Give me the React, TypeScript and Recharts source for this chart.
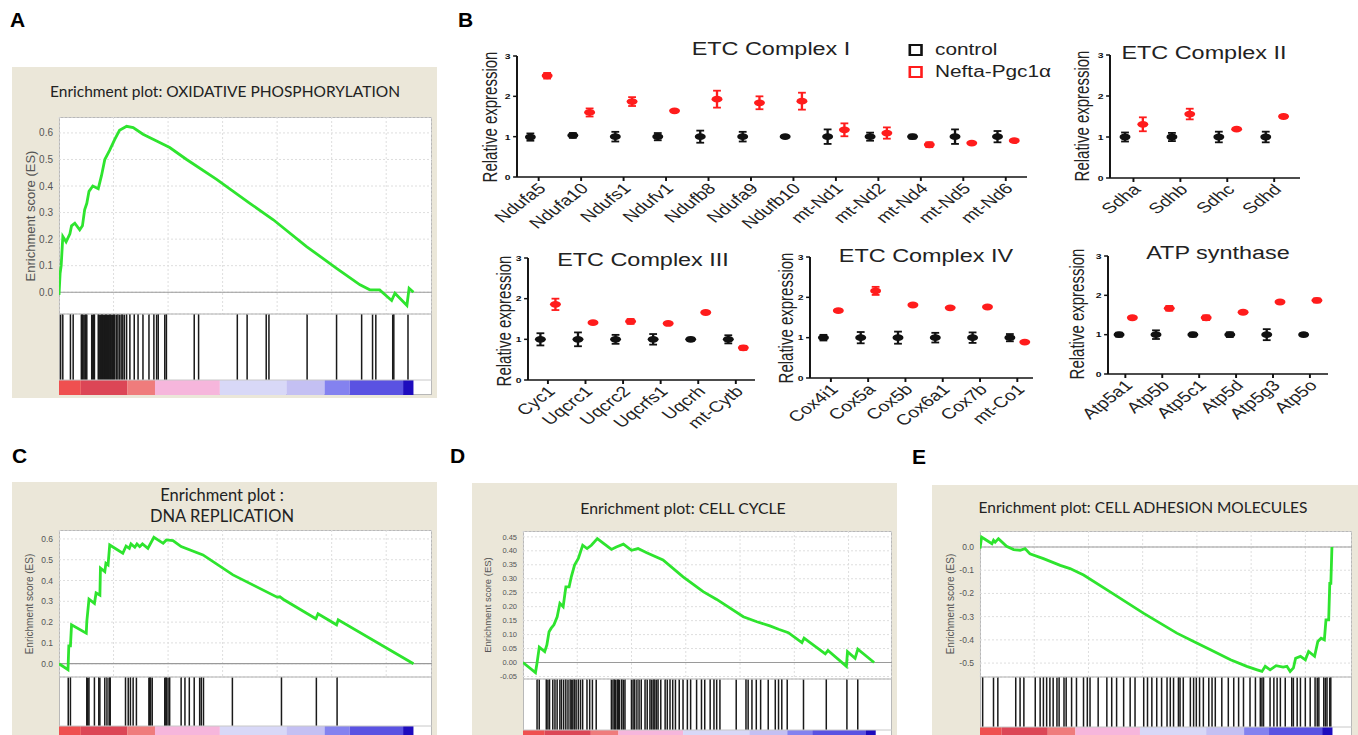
import React from 'react'
import {
  LineChart, Line, ComposedChart, Bar, ScatterChart, Scatter, ErrorBar,
  XAxis, YAxis, CartesianGrid, ReferenceLine, ReferenceArea,
} from 'recharts'

// ---------- panel B : qPCR data (mean ± sem, relative expression) ----------
const C1_GENES = ['Ndufa5', 'Ndufa10', 'Ndufs1', 'Ndufv1', 'Ndufb8', 'Ndufa9', 'Ndufb10', 'mt-Nd1', 'mt-Nd2', 'mt-Nd4', 'mt-Nd5', 'mt-Nd6']
const C1_CTRL = [0.99, 1.03, 1.0, 1.0, 1.0, 1.0, 1.0, 1.0, 1.0, 1.0, 1.0, 1.0]
const C1_CTRL_ERR = [0.09, 0.06, 0.12, 0.09, 0.15, 0.12, 0.03, 0.18, 0.1, 0.05, 0.18, 0.14]
const C1_NEFTA = [2.51, 1.6, 1.87, 1.64, 1.93, 1.84, 1.88, 1.17, 1.09, 0.8, 0.84, 0.9]
const C1_NEFTA_ERR = [0.07, 0.1, 0.11, 0.02, 0.21, 0.16, 0.21, 0.16, 0.14, 0.06, 0.01, 0.02]

const C2_GENES = ['Sdha', 'Sdhb', 'Sdhc', 'Sdhd']
const C2_CTRL = [1.0, 1.0, 1.0, 1.0]
const C2_CTRL_ERR = [0.11, 0.1, 0.13, 0.13]
const C2_NEFTA = [1.31, 1.56, 1.19, 1.5]
const C2_NEFTA_ERR = [0.17, 0.13, 0.02, 0.04]

const C3_GENES = ['Cyc1', 'Uqcrc1', 'Uqcrc2', 'Uqcrfs1', 'Uqcrh', 'mt-Cytb']
const C3_CTRL = [1.0, 1.0, 1.0, 1.0, 1.0, 1.0]
const C3_CTRL_ERR = [0.15, 0.17, 0.11, 0.13, 0.04, 0.1]
const C3_NEFTA = [1.86, 1.41, 1.44, 1.39, 1.66, 0.79]
const C3_NEFTA_ERR = [0.14, 0.02, 0.06, 0.01, 0.01, 0.05]

const C4_GENES = ['Cox4i1', 'Cox5a', 'Cox5b', 'Cox6a1', 'Cox7b', 'mt-Co1']
const C4_CTRL = [1.0, 1.0, 1.0, 1.0, 1.0, 1.0]
const C4_CTRL_ERR = [0.07, 0.14, 0.15, 0.12, 0.13, 0.09]
const C4_NEFTA = [1.67, 2.16, 1.81, 1.74, 1.76, 0.89]
const C4_NEFTA_ERR = [0.03, 0.1, 0.01, 0.01, 0.02, 0.02]

const ATP_GENES = ['Atp5a1', 'Atp5b', 'Atp5c1', 'Atp5d', 'Atp5g3', 'Atp5o']
const ATP_CTRL = [1.0, 1.0, 1.0, 1.0, 1.0, 1.0]
const ATP_CTRL_ERR = [0.05, 0.11, 0.05, 0.06, 0.14, 0.04]
const ATP_NEFTA = [1.43, 1.67, 1.43, 1.57, 1.83, 1.87]
const ATP_NEFTA_ERR = [0.03, 0.06, 0.06, 0.03, 0.03, 0.05]

const EXPR_TICKS = [0, 1, 2, 3]

// ---------- GSEA running enrichment scores: [rank (x1000 genes), ES] ----------
const OXPHOS_ES: [number, number][] = [
  [0, -0.01], [0.02, 0.07], [0.04, 0.1], [0.07, 0.21], [0.13, 0.19], [0.2, 0.22], [0.23, 0.25],
  [0.29, 0.26], [0.38, 0.235], [0.43, 0.25], [0.47, 0.31], [0.51, 0.335], [0.55, 0.38], [0.62, 0.4],
  [0.72, 0.39], [0.78, 0.44], [0.84, 0.5], [0.93, 0.535], [1.02, 0.575], [1.11, 0.61], [1.24, 0.625],
  [1.36, 0.62], [1.54, 0.595], [1.79, 0.57], [2.03, 0.545], [2.34, 0.5], [2.89, 0.425], [3.5, 0.335],
  [3.93, 0.273], [4.54, 0.172], [5.09, 0.09], [5.52, 0.028], [5.7, 0.009], [5.88, 0.009], [6.1, -0.031],
  [6.16, -0.004], [6.38, -0.05], [6.42, 0.015], [6.5, 0.0],
]
const OXPHOS_HITS = [
  0.03, 0.07, 0.21, 0.26, 0.41, 0.43, 0.44, 0.46, 0.48, 0.49, 0.51, 0.6, 0.62, 0.63, 0.65, 0.72, 0.735,
  0.75, 0.765, 0.77, 0.785, 0.8, 0.815, 0.82, 0.835, 0.84, 0.855, 0.87, 0.885, 0.89, 0.905, 0.92, 0.935,
  0.94, 0.955, 0.97, 0.985, 0.99, 1.005, 1.02, 1.05, 1.08, 1.11, 1.14, 1.17, 1.2, 1.24, 1.3, 1.38,
  1.45, 1.54, 1.65, 1.74, 1.79, 1.82, 1.94, 1.97, 2.48, 2.56, 3.27, 3.45, 3.8, 3.85, 4.55, 5.09, 5.55,
  5.75, 5.81, 6.12, 6.14, 6.4,
]

const DNAREP_ES: [number, number][] = [
  [0, 0], [0.165, -0.029], [0.18, 0.086], [0.21, 0.086], [0.23, 0.187], [0.5, 0.147], [0.51, 0.203],
  [0.55, 0.31], [0.65, 0.29], [0.68, 0.34], [0.75, 0.33], [0.76, 0.46], [0.84, 0.443], [0.86, 0.483],
  [0.9, 0.475], [0.93, 0.571], [1.17, 0.531], [1.23, 0.566], [1.29, 0.555], [1.32, 0.576], [1.39, 0.56],
  [1.43, 0.576], [1.48, 0.563], [1.53, 0.576], [1.63, 0.555], [1.74, 0.608], [1.91, 0.579], [1.97, 0.595],
  [2.09, 0.592], [2.24, 0.563], [2.64, 0.523], [3.19, 0.427], [4.0, 0.32], [4.05, 0.322], [4.11, 0.31],
  [4.71, 0.216], [4.75, 0.24], [5.09, 0.187], [5.12, 0.211], [6.5, 0.0],
]
const DNAREP_HITS = [
  0.17, 0.21, 0.51, 0.52, 0.53, 0.55, 0.65, 0.73, 0.75, 0.84, 0.88, 0.92, 0.93, 0.94, 1.22, 1.27, 1.31,
  1.36, 1.42, 1.65, 1.66, 1.67, 1.68, 1.71, 1.94, 1.96, 1.97, 2.0, 2.03, 2.24, 2.31, 2.39, 2.48, 2.58,
  2.61, 2.65, 3.18, 4.08, 4.72, 5.1,
]

const CYCLE_ES: [number, number][] = [
  [0, 0], [0.23, -0.036], [0.26, 0], [0.3, 0.055], [0.4, 0.039], [0.44, 0.063], [0.48, 0.11],
  [0.52, 0.123], [0.57, 0.135], [0.63, 0.164], [0.68, 0.212], [0.74, 0.2], [0.79, 0.271], [0.85, 0.271],
  [0.89, 0.307], [0.95, 0.349], [1.02, 0.373], [1.1, 0.42], [1.18, 0.408], [1.26, 0.42], [1.37, 0.444],
  [1.49, 0.426], [1.63, 0.405], [1.72, 0.414], [1.85, 0.424], [2.0, 0.402], [2.12, 0.408], [2.28, 0.393],
  [2.58, 0.367], [2.95, 0.307], [3.32, 0.254], [3.57, 0.226], [4.06, 0.164], [4.31, 0.146], [4.55, 0.131],
  [4.71, 0.119], [4.89, 0.107], [5.14, 0.071], [5.18, 0.087], [5.57, 0.031], [5.62, 0.043], [5.96, -0.014],
  [5.98, 0.039], [6.12, 0.015], [6.17, 0.048], [6.47, 0],
]
const CYCLE_HITS = [
  0.26, 0.3, 0.43, 0.46, 0.49, 0.55, 0.59, 0.63, 0.68, 0.71, 0.75, 0.79, 0.83, 0.87, 0.9, 0.92, 0.95,
  0.98, 1.02, 1.06, 1.1, 1.18, 1.23, 1.28, 1.35, 1.63, 1.66, 1.69, 1.71, 1.74, 1.76, 1.78, 1.82, 1.85,
  1.88, 2.0, 2.03, 2.06, 2.1, 2.14, 2.18, 2.25, 2.29, 2.34, 2.37, 2.4, 2.43, 2.46, 2.49, 2.54, 2.62,
  2.66, 2.71, 2.76, 2.81, 2.88, 2.95, 3.03, 3.09, 3.2, 3.29, 3.35, 3.45, 3.52, 3.57, 3.63, 3.93, 4.11,
  4.15, 4.22, 4.3, 4.38, 4.52, 4.65, 4.71, 4.77, 4.87, 5.17, 5.59, 5.97, 6.17,
]

const ADHESION_ES: [number, number][] = [
  [0, -0.007], [0.03, 0.043], [0.12, 0.029], [0.22, 0.014], [0.25, 0.029], [0.28, 0.021], [0.34, 0.036],
  [0.49, 0.003], [0.62, -0.011], [0.74, -0.014], [0.83, -0.007], [0.92, -0.029], [1.17, -0.05],
  [1.48, -0.079], [1.66, -0.093], [1.91, -0.121], [2.4, -0.193], [3.02, -0.286], [3.63, -0.371],
  [3.94, -0.407], [4.25, -0.443], [4.62, -0.486], [4.92, -0.514], [5.11, -0.529], [5.2, -0.536],
  [5.26, -0.514], [5.35, -0.529], [5.46, -0.511], [5.59, -0.517], [5.66, -0.514], [5.72, -0.536],
  [5.78, -0.521], [5.82, -0.479], [5.91, -0.471], [6.0, -0.486], [6.06, -0.45], [6.17, -0.471],
  [6.23, -0.407], [6.29, -0.393], [6.35, -0.4], [6.38, -0.314], [6.43, -0.314], [6.45, -0.157],
  [6.47, -0.157], [6.49, 0],
]
const ADHESION_HITS = [
  0.05, 0.25, 0.33, 0.66, 0.74, 0.81, 1.02, 1.11, 1.17, 1.23, 1.29, 1.35, 1.42, 1.46, 1.55, 1.59, 1.69,
  1.78, 1.91, 1.98, 2.03, 2.18, 2.34, 2.43, 2.52, 2.65, 2.77, 2.86, 3.02, 3.09, 3.17, 3.26, 3.35, 3.45,
  3.51, 3.57, 3.66, 3.69, 3.75, 3.88, 3.94, 3.99, 4.05, 4.12, 4.22, 4.28, 4.34, 4.46, 4.58, 4.68, 4.77,
  4.86, 4.98, 5.08, 5.17, 5.2, 5.23, 5.35, 5.42, 5.48, 5.54, 5.63, 5.75, 5.78, 5.85, 5.91, 6.0, 6.09,
  6.18, 6.22, 6.25, 6.34, 6.37, 6.4, 6.45, 6.47,
]

// ranked-list colour bar (shared by all GSEA plots)
const RANK_STOPS = [0, 0.4, 1.25, 1.76, 2.95, 4.17, 4.87, 5.33, 6.31, 6.5]
const RANK_FILLS = ['#ef5050', '#dc4656', '#ef7c7c', '#f6b6dc', '#d8d8f7', '#c4c0f3', '#8482ef', '#5a52e2', '#1e0cbe']

const ES_TICKS_POS = [0, 0.1, 0.2, 0.3, 0.4, 0.5, 0.6]
const ES_TICKS_CYCLE = [-0.05, 0, 0.05, 0.1, 0.15, 0.2, 0.25, 0.3, 0.35, 0.4, 0.45]
const ES_TICKS_NEG = [-0.5, -0.4, -0.3, -0.2, -0.1, 0]
const RANK_GRID = [1, 2, 3, 4, 5, 6]

const BEIGE = '#ebe7d9'
const GREEN = '#2ee42e'
const RED = '#ff1c1c'
const BLACK = '#111'
const K = 1.3 // panel B is stretched horizontally

type Gsea = {
  box: [number, number, number, number]
  title: string[]; titleX: number; titleY: number[]; titleSize: number
  plotLeft: number; plotRight: number; plotTop: number; esBottom: number; hitsBottom: number; barBottom: number
  yDomain: [number, number]; yTicks: number[]; digits: number; xMax: number
  es: [number, number][]; hits: number[]
  tickSize: number; labelSize: number; labelX: number
}

const PANEL_A: Gsea = {
  box: [12, 67, 437, 398], title: ['Enrichment plot: OXIDATIVE PHOSPHORYLATION'], titleX: 225, titleY: [91], titleSize: 15.5,
  plotLeft: 59, plotRight: 432, plotTop: 117, esBottom: 314, hitsBottom: 380, barBottom: 395,
  yDomain: [-0.082, 0.66], yTicks: ES_TICKS_POS, digits: 1, xMax: 6.84,
  es: OXPHOS_ES, hits: OXPHOS_HITS, tickSize: 10, labelSize: 13, labelX: 30,
}
const PANEL_C: Gsea = {
  box: [12, 482, 437, 760], title: ['Enrichment plot :', 'DNA REPLICATION'], titleX: 222, titleY: [495, 516], titleSize: 16.5,
  plotLeft: 59, plotRight: 432, plotTop: 530, esBottom: 677, hitsBottom: 726, barBottom: 745,
  yDomain: [-0.064, 0.643], yTicks: ES_TICKS_POS, digits: 1, xMax: 6.84,
  es: DNAREP_ES, hits: DNAREP_HITS, tickSize: 8.5, labelSize: 10, labelX: 29,
}
const PANEL_D: Gsea = {
  box: [472, 483, 897, 760], title: ['Enrichment plot: CELL CYCLE'], titleX: 683, titleY: [507], titleSize: 15.8,
  plotLeft: 523, plotRight: 892, plotTop: 531, esBottom: 679, hitsBottom: 730, barBottom: 745,
  yDomain: [-0.059, 0.471], yTicks: ES_TICKS_CYCLE, digits: 2, xMax: 6.8,
  es: CYCLE_ES, hits: CYCLE_HITS, tickSize: 7.5, labelSize: 9.5, labelX: 487,
}
const PANEL_E: Gsea = {
  box: [932, 485, 1360, 760], title: ['Enrichment plot: CELL ADHESION MOLECULES'], titleX: 1143, titleY: [507], titleSize: 15.5,
  plotLeft: 980, plotRight: 1352, plotTop: 531, esBottom: 677, hitsBottom: 727, barBottom: 745,
  yDomain: [-0.56, 0.069], yTicks: ES_TICKS_NEG, digits: 1, xMax: 6.86,
  es: ADHESION_ES, hits: ADHESION_HITS, tickSize: 8.5, labelSize: 10, labelX: 950,
}

// a hit is drawn as a thin fixed-width stick centred on the bar the library positions
const HitStick = (b: any) => (
  <rect x={b.x + b.width / 2 - 0.75} y={b.y} width={1.5} height={b.height} fill="#1a1a1a" />
)

function GseaPanel({ g }: { g: Gsea }) {
  const esData = g.es.map(([rank, es]) => ({ rank, es }))
  const barFrac = (g.barBottom - g.hitsBottom) / (g.barBottom - g.esBottom)
  const hitData = g.hits.map(rank => ({ rank, span: [barFrac, 1] }))
  const w = g.plotRight - g.plotLeft
  const AX = 60
  const PB = 12
  return (
    <>
      <div style={{ position: 'absolute', left: g.box[0], top: g.box[1], width: g.box[2] - g.box[0], height: g.box[3] - g.box[1], background: BEIGE }} />
      {g.title.map((t, i) => (
        <div key={i} style={{ position: 'absolute', left: g.titleX, top: g.titleY[i], transform: 'translate(-50%,-50%)', whiteSpace: 'nowrap', fontFamily: 'Lato, "Open Sans", sans-serif', fontSize: g.titleSize, color: '#222' }}>{t}</div>
      ))}
      <div style={{ position: 'absolute', left: g.plotLeft, top: g.plotTop, width: w, height: g.barBottom - g.plotTop, background: '#fff', boxSizing: 'border-box', border: '1px solid #b8b8b8' }} />
      <div style={{ position: 'absolute', left: g.labelX, top: (g.plotTop + g.esBottom) / 2, transform: 'translate(-50%,-50%) rotate(-90deg)', whiteSpace: 'nowrap', fontSize: g.labelSize, color: '#555' }}>
        Enrichment score (ES)
      </div>
      <div style={{ position: 'absolute', left: g.plotLeft, top: g.esBottom }}>
        <ComposedChart width={w} height={g.barBottom - g.esBottom} data={hitData} margin={{ top: 0, right: 0, bottom: 0, left: 0 }}>
          <XAxis type="number" dataKey="rank" domain={[0, g.xMax]} hide allowDataOverflow />
          <YAxis type="number" domain={[0, 1]} hide allowDataOverflow />
          {RANK_FILLS.map((c, i) => (
            <ReferenceArea key={'c' + i} x1={RANK_STOPS[i]} x2={RANK_STOPS[i + 1]} y1={0} y2={barFrac} fill={c} fillOpacity={1} stroke="none" ifOverflow="visible" />
          ))}
          <ReferenceLine y={barFrac} stroke="#c8c8c8" />
          <Bar dataKey="span" barSize={1.5} shape={HitStick} isAnimationActive={false} />
        </ComposedChart>
      </div>
      <div style={{ position: 'absolute', left: g.plotLeft - AX, top: g.plotTop }}>
        <LineChart width={w + AX} height={g.esBottom - g.plotTop + PB} data={esData} margin={{ top: 0, right: 0, bottom: PB, left: 0 }}>
          <CartesianGrid stroke="#dedede" strokeDasharray="2 2" />
          <XAxis type="number" dataKey="rank" domain={[0, g.xMax]} ticks={RANK_GRID} hide allowDataOverflow />
          <YAxis type="number" domain={g.yDomain} ticks={g.yTicks} width={AX} interval={0} axisLine={false} tickLine={false}
            tickSize={0} tickMargin={6} allowDataOverflow tick={{ fontSize: g.tickSize, fill: '#555' }}
            tickFormatter={(v: number) => v.toFixed(g.digits)} />
          <ReferenceLine y={0} stroke="#9a9a9a" strokeWidth={1.2} />
          <ReferenceLine y={g.yDomain[0]} stroke="#b0b0b0" />
          <Line dataKey="es" type="linear" stroke={GREEN} strokeWidth={2.8} dot={false} isAnimationActive={false} />
        </LineChart>
      </div>
    </>
  )
}

type Expr = {
  title: string; titleX: number; titleY: number
  genes: string[]; ctrl: number[]; ctrlErr: number[]; nefta: number[]; neftaErr: number[]
  plotLeft: number; plotRight: number; plotTop: number; plotBottom: number
  xDomain: [number, number]; ctrlOff: number; neftaOff: number
  labelX: number; labelY: number; legend?: boolean
}

const PANELS_B: Expr[] = [
  { title: 'ETC Complex I', titleX: 771, titleY: 49, genes: C1_GENES, ctrl: C1_CTRL, ctrlErr: C1_CTRL_ERR, nefta: C1_NEFTA, neftaErr: C1_NEFTA_ERR,
    plotLeft: 517, plotRight: 1027, plotTop: 56, plotBottom: 177, xDomain: [-0.51, 11.5], ctrlOff: -0.195, neftaOff: 0.2, labelX: 490, labelY: 117, legend: true },
  { title: 'ETC Complex II', titleX: 1204, titleY: 53, genes: C2_GENES, ctrl: C2_CTRL, ctrlErr: C2_CTRL_ERR, nefta: C2_NEFTA, neftaErr: C2_NEFTA_ERR,
    plotLeft: 1110, plotRight: 1300, plotTop: 55, plotBottom: 178, xDomain: [-0.5, 3.55], ctrlOff: -0.18, neftaOff: 0.2, labelX: 1081, labelY: 116 },
  { title: 'ETC Complex III', titleX: 643, titleY: 260, genes: C3_GENES, ctrl: C3_CTRL, ctrlErr: C3_CTRL_ERR, nefta: C3_NEFTA, neftaErr: C3_NEFTA_ERR,
    plotLeft: 528, plotRight: 755, plotTop: 258, plotBottom: 380, xDomain: [-0.53, 5.51], ctrlOff: -0.2, neftaOff: 0.2, labelX: 503, labelY: 321 },
  { title: 'ETC Complex IV', titleX: 926, titleY: 256, genes: C4_GENES, ctrl: C4_CTRL, ctrlErr: C4_CTRL_ERR, nefta: C4_NEFTA, neftaErr: C4_NEFTA_ERR,
    plotLeft: 810, plotRight: 1033, plotTop: 257, plotBottom: 378, xDomain: [-0.56, 5.42], ctrlOff: -0.2, neftaOff: 0.2, labelX: 785, labelY: 318 },
  { title: 'ATP synthase', titleX: 1218, titleY: 253, genes: ATP_GENES, ctrl: ATP_CTRL, ctrlErr: ATP_CTRL_ERR, nefta: ATP_NEFTA, neftaErr: ATP_NEFTA_ERR,
    plotLeft: 1108, plotRight: 1328, plotTop: 256, plotBottom: 374, xDomain: [-0.47, 5.49], ctrlOff: -0.17, neftaOff: 0.19, labelX: 1077, labelY: 314 },
]

const Marker = (props: any) => <ellipse cx={props.cx} cy={props.cy} rx={4.2} ry={3.4} fill={props.fill} />

function ExprPanel({ p }: { p: Expr }) {
  const PADL = 70, PADT = 40, PADR = 10, PADB = 70
  const ctrlData = p.genes.map((_, i) => ({ x: i + p.ctrlOff, y: p.ctrl[i], err: p.ctrlErr[i] }))
  const neftaData = p.genes.map((_, i) => ({ x: i + p.neftaOff, y: p.nefta[i], err: p.neftaErr[i] }))
  const left = p.plotLeft - PADL
  const top = p.plotTop - PADT
  const width = (p.plotRight - p.plotLeft + PADL + PADR) / K
  const height = p.plotBottom - p.plotTop + PADT + PADB
  const ux = (fx: number) => (fx - left) / K
  const font = '"Liberation Sans", Arial, sans-serif'
  const GeneTick = (t: any) => (
    <text x={t.x} y={t.y} dy={9} textAnchor="end" fontSize={15} fill="#222" fontFamily={font}
      transform={`rotate(-45 ${t.x} ${t.y})`}>{p.genes[t.payload.value]}</text>
  )
  return (
    <div style={{ position: 'absolute', left, top, width, height, transform: `scaleX(${K})`, transformOrigin: '0 0', fontFamily: font }}>
      <ScatterChart width={width} height={height} margin={{ top: PADT, right: PADR / K, bottom: 0, left: 0 }}>
        <XAxis type="number" dataKey="x" domain={p.xDomain} ticks={p.genes.map((_, i) => i)} interval={0} height={PADB}
          tick={GeneTick} tickSize={4} stroke={BLACK} strokeWidth={1.5} allowDataOverflow />
        <YAxis type="number" dataKey="y" domain={[0, 3]} ticks={EXPR_TICKS} interval={0} width={PADL / K} tickSize={3} tickMargin={2}
          tick={{ fontSize: 8, fontWeight: 700, fill: BLACK }} stroke={BLACK} strokeWidth={1.5} />
        <Scatter data={ctrlData} fill={BLACK} shape={Marker} isAnimationActive={false}>
          <ErrorBar dataKey="err" direction="y" width={3} strokeWidth={1.8} stroke={BLACK} />
        </Scatter>
        <Scatter data={neftaData} fill={RED} shape={Marker} isAnimationActive={false}>
          <ErrorBar dataKey="err" direction="y" width={3} strokeWidth={1.8} stroke={RED} />
        </Scatter>
      </ScatterChart>
      <div style={{ position: 'absolute', left: ux(p.titleX), top: p.titleY - top, transform: 'translate(-50%,-50%)', whiteSpace: 'nowrap', fontSize: 18, color: '#222' }}>{p.title}</div>
      <div style={{ position: 'absolute', left: ux(p.labelX), top: p.labelY - top, transform: 'translate(-50%,-50%) rotate(-90deg)', whiteSpace: 'nowrap', fontSize: 15, color: '#222' }}>Relative expression</div>
      {p.legend && (
        <>
          {[['control', BLACK, 44], ['Nefta-Pgc1\u03b1', RED, 66]].map(([name, col, y]) => (
            <React.Fragment key={name as string}>
              <div style={{ position: 'absolute', left: ux(909), top: (y as number) - top, width: 14 / K, height: 12, boxSizing: 'border-box', border: `2px solid ${col}` }} />
              <div style={{ position: 'absolute', left: ux(935), top: (y as number) - top + 6, transform: 'translateY(-50%)', whiteSpace: 'nowrap', fontSize: 16, color: '#222' }}>{name as string}</div>
            </React.Fragment>
          ))}
        </>
      )}
    </div>
  )
}

const LETTERS: [string, number, number][] = [['A', 10, 12], ['B', 458, 12], ['C', 12, 448], ['D', 450, 448], ['E', 912, 449]]

export default function App() {
  return (
    <div style={{ position: 'fixed', left: 0, top: 0, width: 1358, height: 735, overflow: 'hidden', background: '#fff', fontFamily: '"Liberation Sans", Arial, sans-serif' }}>
      {LETTERS.map(([l, x, y]) => (
        <div key={l} style={{ position: 'absolute', left: x, top: y - 3, fontSize: 21, fontWeight: 700, lineHeight: 1, color: '#000' }}>{l}</div>
      ))}
      <GseaPanel g={PANEL_A} />
      <GseaPanel g={PANEL_C} />
      <GseaPanel g={PANEL_D} />
      <GseaPanel g={PANEL_E} />
      {PANELS_B.map(p => <ExprPanel key={p.title} p={p} />)}
    </div>
  )
}
